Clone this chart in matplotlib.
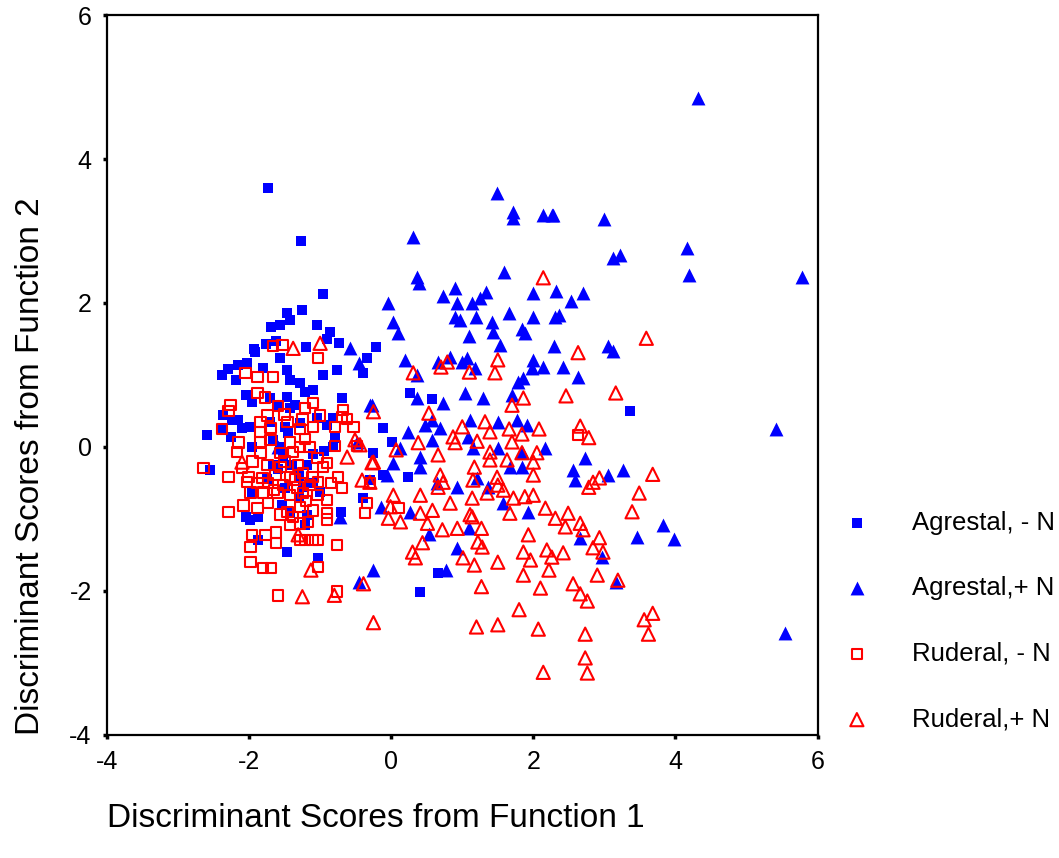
import matplotlib
matplotlib.use("Agg")
from matplotlib import pyplot as plt

plt.rcParams['font.family'] = ['Liberation Sans', 'DejaVu Sans']
plt.rcParams['axes.unicode_minus'] = False

# Agrestal, - N  (filled blue squares)
agr_minus = [(-1.73, 3.6), (-1.27, 2.86), (-0.96, 2.12), (-1.46, 1.86), (-1.25, 1.9), (-1.69, 1.67),
             (-1.56, 1.69), (-1.42, 1.76), (-1.05, 1.69), (-0.86, 1.6), (-0.9, 1.5), (-0.73, 1.44),
             (-0.22, 1.39), (-1.62, 1.47), (-1.76, 1.43), (-1.93, 1.36), (-1.2, 1.39), (-1.91, 1.32),
             (-1.56, 1.24), (-2.15, 1.14), (-2.03, 1.17), (-2.38, 1.0), (-2.19, 0.93), (-1.8, 1.1),
             (-1.46, 1.07), (-1.42, 0.93), (-1.28, 0.89), (-0.96, 1.0), (-0.76, 1.07), (-0.39, 1.03),
             (-0.34, 1.24), (-0.69, 0.68), (-1.1, 0.79), (-1.21, 0.76), (-2.05, 0.72), (-1.96, 0.63),
             (-1.7, 0.68), (-1.46, 0.69), (-1.35, 0.58), (-1.6, 0.56), (-1.42, 0.54), (-2.24, 0.38),
             (-2.15, 0.38), (-2.36, 0.44), (-2.1, 0.26), (-1.98, 0.28), (-1.7, 0.35), (-1.49, 0.28),
             (-1.28, 0.33), (-1.04, 0.4), (-0.82, 0.4), (-0.9, 0.31), (-2.59, 0.17), (-2.38, 0.24),
             (-2.26, 0.14), (-1.96, 0.0), (-1.67, 0.1), (-1.56, 0.0), (-0.82, 0.0), (-0.79, 0.12),
             (-2.55, -0.32), (-1.52, -0.14), (-1.39, -0.25), (-1.66, -0.25), (-1.18, -0.25), (-1.96, -0.63),
             (-1.49, -0.57), (-1.24, -0.56), (-1.0, -0.63), (-0.3, -0.46), (-0.39, -0.71), (-1.53, -0.81),
             (-1.42, -0.92), (-1.18, -0.94), (-2.05, -0.97), (-1.98, -1.01), (-1.87, -0.97), (-1.87, -1.29),
             (-1.46, -1.46), (-1.03, -1.54), (-1.21, -1.08), (0.27, 0.75), (0.58, 0.67), (-0.11, 0.26),
             (0.01, 0.07), (-0.25, -0.08), (0.24, -0.42), (0.66, -1.75), (0.41, -2.01), (3.36, 0.5),
             (-0.11, -0.39), (-2.3, 1.08), (-1.3, -0.4), (-1.1, -0.1), (-1.75, -0.45), (-0.7, -0.9),
             (-1.6, -0.3), (-1.3, -0.7), (-1.1, -0.5), (-0.95, -0.05), (-1.45, 0.2)]

# Agrestal, + N  (filled blue triangles)
agr_plus = [(4.32, 4.85), (2.28, 3.22), (3.0, 3.17), (3.12, 2.63), (3.22, 2.67), (4.16, 2.76),
            (4.19, 2.39), (5.78, 2.36), (2.32, 2.17), (2.53, 2.03), (2.7, 2.14), (2.31, 1.81),
            (2.36, 1.83), (2.29, 1.4), (3.05, 1.4), (3.12, 1.33), (1.49, 3.53), (1.72, 3.26),
            (1.72, 3.18), (2.14, 3.22), (2.26, 3.22), (0.31, 2.92), (0.37, 2.36), (0.39, 2.28),
            (1.59, 2.43), (-0.04, 2.0), (0.9, 2.21), (0.73, 2.1), (0.93, 2.0), (1.14, 2.0),
            (1.25, 2.07), (1.34, 2.15), (2.0, 2.14), (0.03, 1.74), (0.1, 1.58), (0.9, 1.81),
            (0.97, 1.76), (1.2, 1.81), (1.66, 1.86), (2.0, 1.81), (1.42, 1.74), (1.43, 1.6),
            (1.84, 1.64), (1.88, 1.58), (1.1, 1.54), (1.53, 1.42), (0.2, 1.21), (0.37, 1.0),
            (0.66, 1.18), (0.83, 1.25), (1.0, 1.18), (1.07, 1.24), (1.18, 1.1), (2.0, 1.21),
            (2.14, 1.11), (1.98, 1.1), (1.79, 0.9), (1.86, 0.96), (1.04, 0.75), (1.29, 0.68),
            (0.37, 0.68), (0.73, 0.61), (1.7, 0.72), (-0.27, 0.58), (0.48, 0.31), (0.58, 0.38),
            (0.69, 0.26), (1.11, 0.38), (1.5, 0.35), (1.77, 0.38), (1.91, 0.31), (0.24, 0.21),
            (0.13, -0.01), (0.58, 0.1), (1.08, 0.14), (1.15, -0.01), (1.5, -0.01), (1.84, -0.07),
            (2.17, -0.01), (0.41, -0.14), (0.03, -0.22), (0.41, -0.28), (1.67, -0.28), (1.84, -0.28),
            (-0.06, -0.39), (0.65, -0.5), (0.93, -0.56), (1.21, -0.43), (1.36, -0.56), (-0.15, -0.83),
            (0.27, -0.9), (1.93, -0.9), (1.58, -0.78), (0.53, -1.21), (1.1, -1.13), (0.93, -1.4),
            (0.77, -1.71), (-0.25, -1.71), (-0.72, -0.97), (-0.46, -1.87), (2.42, 1.11), (2.63, 0.97),
            (5.42, 0.25), (2.73, -0.15), (2.56, -0.32), (2.59, -0.46), (3.05, -0.39), (3.26, -0.32),
            (3.83, -1.08), (3.46, -1.25), (3.98, -1.28), (2.66, -1.26), (2.97, -1.53), (3.16, -1.87),
            (5.54, -2.58), (-0.58, 1.37), (-0.46, 1.17), (-0.3, 0.58), (-0.48, 0.07), (-1.6, 0.0)]

# Ruderal, - N  (open red squares)
rud_minus = [(-1.66, 1.4), (-1.53, 1.42), (-1.03, 1.24), (-2.05, 1.03), (-1.88, 0.97), (-1.66, 0.97),
             (-1.88, 0.75), (-1.78, 0.69), (-1.59, 0.57), (-2.26, 0.58), (-2.29, 0.5), (-1.1, 0.61),
             (-1.21, 0.54), (-1.0, 0.44), (-0.68, 0.51), (-0.69, 0.42), (-0.62, 0.39), (-1.74, 0.44),
             (-1.84, 0.35), (-1.46, 0.35), (-1.25, 0.38), (-2.38, 0.25), (-1.84, 0.21), (-1.7, 0.26),
             (-1.28, 0.25), (-1.1, 0.28), (-0.79, 0.28), (-0.53, 0.28), (-1.84, 0.07), (-2.15, 0.06),
             (-1.7, 0.1), (-1.42, 0.06), (-1.21, 0.11), (-1.28, 0.0), (-2.17, -0.07), (-1.84, -0.08),
             (-1.56, -0.08), (-1.38, -0.07), (-0.79, 0.01), (-0.48, 0.01), (-1.04, -0.15), (-0.9, -0.22),
             (-2.64, -0.29), (-2.1, -0.29), (-1.74, -0.25), (-1.56, -0.28), (-1.31, -0.25), (-0.96, -0.28),
             (-2.01, -0.42), (-2.29, -0.42), (-1.81, -0.43), (-1.63, -0.39), (-1.42, -0.42), (-1.24, -0.36),
             (-1.11, -0.42), (-0.75, -0.42), (-2.03, -0.49), (-1.88, -0.5), (-1.73, -0.5), (-1.52, -0.53),
             (-1.32, -0.56), (-1.14, -0.53), (-1.03, -0.49), (-0.69, -0.57), (-1.98, -0.63), (-1.8, -0.63),
             (-1.6, -0.64), (-1.42, -0.67), (-1.24, -0.64), (-1.04, -0.67), (-0.9, -0.74), (-2.08, -0.81),
             (-2.29, -0.9), (-1.88, -0.85), (-1.73, -0.78), (-1.46, -0.9), (-1.28, -0.83), (-1.1, -0.88),
             (-0.9, -0.92), (-0.34, -0.78), (-0.37, -0.92), (-1.56, -0.94), (-1.38, -0.97), (-1.42, -1.08),
             (-1.28, -1.06), (-1.17, -1.04), (-0.9, -1.01), (-1.96, -1.22), (-1.77, -1.22), (-1.62, -1.19),
             (-1.62, -1.33), (-1.98, -1.39), (-1.28, -1.29), (-1.21, -1.29), (-1.11, -1.29), (-1.03, -1.29),
             (-0.76, -1.36), (-1.98, -1.6), (-1.8, -1.68), (-1.69, -1.68), (-1.03, -1.67), (-1.59, -2.06),
             (-0.76, -2.01), (2.63, 0.17), (0.1, -0.85), (-0.3, -0.5), (-1.5, -0.2), (-1.35, -0.45),
             (-1.2, -0.75), (-1.65, -0.6), (-1.95, -0.2), (-1.15, 0.0), (-0.85, -0.5), (-1.5, 0.45)]

# Ruderal, + N  (open red triangles)
rud_plus = [(0.31, 1.03), (0.7, 1.11), (0.79, 1.18), (1.1, 1.04), (1.5, 1.21), (1.46, 1.03),
            (1.86, 0.68), (1.7, 0.58), (-0.25, 0.49), (0.53, 0.47), (1.0, 0.28), (1.32, 0.35),
            (1.39, 0.21), (1.66, 0.25), (1.84, 0.18), (2.08, 0.25), (0.87, 0.14), (0.9, 0.06),
            (0.38, 0.06), (1.21, 0.08), (1.7, 0.07), (0.07, -0.04), (0.66, -0.11), (1.39, -0.07),
            (1.39, -0.18), (1.84, -0.08), (2.05, -0.08), (1.63, -0.18), (2.0, -0.21), (-0.25, -0.21),
            (1.17, -0.28), (2.0, -0.39), (0.69, -0.39), (0.73, -0.49), (0.66, -0.56), (1.15, -0.46),
            (1.49, -0.42), (1.5, -0.53), (1.58, -0.6), (1.35, -0.64), (1.72, -0.71), (1.88, -0.69),
            (2.0, -0.67), (0.03, -0.67), (0.41, -0.67), (0.83, -0.78), (1.14, -0.71), (-0.01, -0.83),
            (0.58, -0.88), (0.41, -0.92), (2.17, -0.85), (1.11, -0.94), (1.67, -0.92), (-0.04, -0.99),
            (0.13, -1.04), (0.51, -1.06), (1.14, -0.97), (2.31, -0.99), (0.72, -1.15), (0.93, -1.13),
            (1.27, -1.13), (1.22, -1.32), (1.28, -1.39), (1.93, -1.22), (0.44, -1.33), (0.3, -1.46),
            (0.34, -1.54), (1.01, -1.54), (1.17, -1.64), (1.5, -1.6), (1.86, -1.46), (1.96, -1.57),
            (2.19, -1.43), (2.26, -1.53), (2.22, -1.71), (1.86, -1.78), (1.27, -1.94), (2.1, -1.96),
            (1.8, -2.26), (-0.25, -2.44), (1.2, -2.5), (1.5, -2.47), (2.07, -2.53), (2.14, -3.13),
            (3.39, -0.9), (2.49, -0.92), (2.45, -1.11), (2.66, -1.06), (2.7, -1.15), (2.93, -1.26),
            (2.84, -1.4), (2.98, -1.46), (2.42, -1.47), (2.9, -1.78), (3.19, -1.85), (2.56, -1.9),
            (2.66, -2.04), (2.76, -2.14), (3.68, -2.31), (3.56, -2.4), (3.62, -2.6), (2.73, -2.6),
            (2.73, -2.93), (2.76, -3.14), (3.59, 1.51), (2.63, 1.31), (2.46, 0.71), (3.16, 0.75),
            (2.66, 0.29), (2.78, 0.13), (3.68, -0.38), (2.78, -0.56), (2.84, -0.49), (2.93, -0.43),
            (3.49, -0.64), (2.14, 2.35), (-1.38, 1.37), (-1.0, 1.44), (-0.51, 0.1), (-0.44, 0.03),
            (-0.62, -0.14), (-0.27, -0.22), (-2.1, -0.21), (-0.41, -0.46), (-0.3, -0.49), (-1.31, -1.22),
            (-1.13, -1.71), (-1.25, -2.08), (-0.8, -2.06), (-0.39, -1.9)]

labels = ["Agrestal, - N", "Agrestal,+ N", "Ruderal, - N", "Ruderal,+ N"]
x_ticks = [-4, -2, 0, 2, 4, 6]
y_ticks = [-4, -2, 0, 2, 4, 6]

fig = plt.figure(figsize=(10.59, 8.58), dpi=100)
ax = fig.add_axes([0.101, 0.1434, 0.671, 0.8391])

blue = '#0000ff'
red = '#ff0000'

ax.scatter(*zip(*agr_minus), marker='s', s=6.5 ** 2, c=blue, linewidths=0, label=labels[0])
ax.scatter(*zip(*agr_plus), marker='^', s=10 ** 2, c=blue, linewidths=0, label=labels[1])
ax.scatter(*zip(*rud_minus), marker='s', s=7.5 ** 2, facecolors='none', edgecolors=red,
           linewidths=1.5, label=labels[2])
ax.scatter(*zip(*rud_plus), marker='^', s=9.5 ** 2, facecolors='none', edgecolors=red,
           linewidths=1.5, label=labels[3])

ax.set_xlim(-4, 6)
ax.set_ylim(-4, 6)
ax.set_xticks(x_ticks)
ax.set_yticks(y_ticks)
ax.tick_params(direction='out', length=3, width=2.5, labelsize=18, pad=8)
for sp in ax.spines.values():
    sp.set_linewidth(1.6)

ax.set_xlabel("Discriminant Scores from Function 1", fontsize=24, loc='left')
ax.xaxis.set_label_coords(0.0, -0.094)
ax.set_ylabel("Discriminant Scores from Function 2", fontsize=24, loc='bottom')
ax.yaxis.set_label_coords(-0.086, 0.0)

fig.legend(loc='upper left', bbox_to_anchor=(0.797, 0.405), frameon=False, fontsize=18.5,
           handlelength=1.0, handletextpad=1.65, labelspacing=1.62, borderpad=0,
           borderaxespad=0)

fig.savefig("out.png", dpi=100)
